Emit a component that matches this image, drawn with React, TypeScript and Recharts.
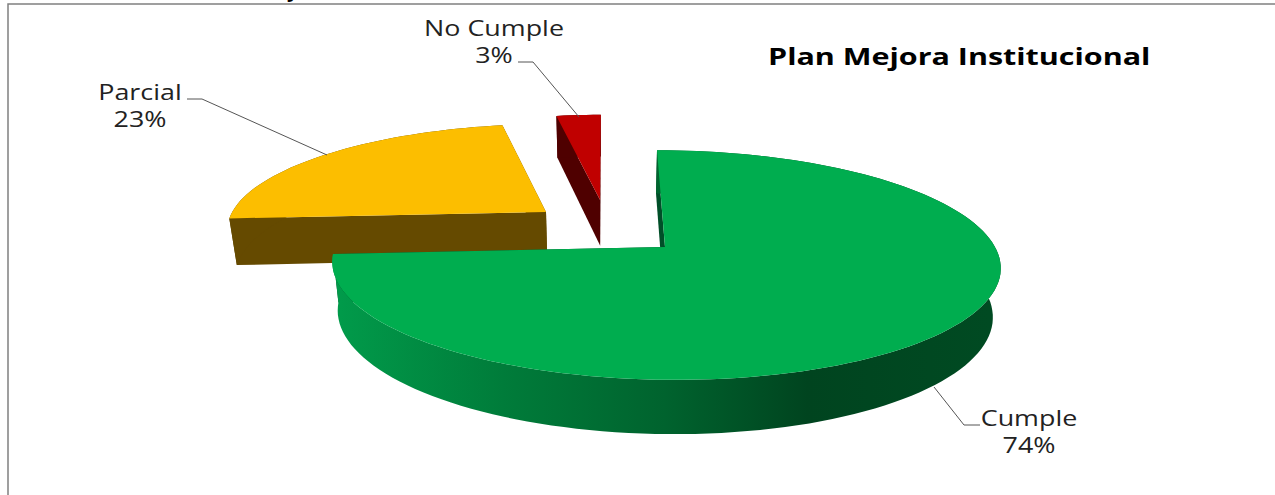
import { Pie, PieChart } from 'recharts';

// drawn back to front, going counter-clockwise from 12 o'clock
const categories = ['No Cumple', 'Parcial', 'Cumple'];
const percentages = [3, 23, 74];

const chartData = categories.map((name, i) => ({ name, value: percentages[i] }));

const FONT = '"Open Sans", "Noto Sans", sans-serif';
const LABEL_STRETCH = 1.28;
const TITLE_STRETCH = 1.27;

// fake 3D: the pie sits on a tilted plane seen from a camera left of its centre
const TILT_Y = 112;
const PERSPECTIVE = 0.157;
const CAMERA_OFFSET = 59;
const DEPTH = 48;
const FLOOR_SCALE = 0.98;

const sliceStyles: Record<string, any> = {
  'No Cumple': { top: '#C00000', wall: '#4F0000', side: '#4F0000', ex: -0.198, ey: -0.45, narrow: 0.88 },
  Parcial: { top: '#FCBE00', wall: '#654A00', side: '#654A00', ex: -0.37, ey: -0.3286, narrow: 1 },
  Cumple: { top: '#00AD4F', wall: 'url(#cumpleSide)', side: '#004F28', ex: 0, ey: 0, narrow: 1 },
};

const labelStyles: Record<string, any> = {
  'No Cumple': { x: 494, y: 36, line: '518,62 533,62 579,117' },
  Parcial: { x: 140, y: 100, line: '187,99 202,99 327,155' },
  Cumple: { x: 1029, y: 426, line: '934,387 964,425 980,425' },
};

const project = (p: any, style: any, angle: number, radius: number, floor: boolean) => {
  const rad = (angle * Math.PI) / 180;
  const u = Math.cos(rad) * radius * style.narrow + style.ex;
  const v = -Math.sin(rad) * radius + style.ey;
  const s = 1 / (1 - PERSPECTIVE * v);
  const scale = floor ? FLOOR_SCALE : 1;
  const x = p.cx - CAMERA_OFFSET + (CAMERA_OFFSET + p.outerRadius * u) * s * scale;
  const y = p.cy + TILT_Y * v * s * scale + (floor ? DEPTH * s : 0);
  return `${x.toFixed(1)},${y.toFixed(1)}`;
};

const arcPoints = (p: any, style: any, floor: boolean) => {
  const points = [];
  const steps = Math.max(2, Math.ceil(Math.abs(p.endAngle - p.startAngle) / 2));
  for (let i = 0; i <= steps; i++) {
    const angle = p.startAngle + ((p.endAngle - p.startAngle) * i) / steps;
    points.push(project(p, style, angle, 1, floor));
  }
  return points;
};

const Slice3D = (props: any) => {
  const style = sliceStyles[props.name];
  const topArc = arcPoints(props, style, false);
  const floorArc = arcPoints(props, style, true);
  const centreTop = project(props, style, 0, 0, false);
  const centreFloor = project(props, style, 0, 0, true);
  const last = topArc.length - 1;

  return (
    <g>
      <polygon points={[centreTop, topArc[0], floorArc[0], centreFloor].join(' ')} fill={style.side} />
      <polygon points={[centreTop, topArc[last], floorArc[last], centreFloor].join(' ')} fill={style.side} />
      <polygon points={[...topArc, ...[...floorArc].reverse()].join(' ')} fill={style.wall} />
      <polygon points={[centreTop, ...topArc].join(' ')} fill={style.top} />
    </g>
  );
};

const SliceLabel = (props: any) => {
  const style = labelStyles[props.name];
  return (
    <g>
      <polyline points={style.line} fill="none" stroke="#555" strokeWidth={1} />
      <g transform={`translate(${style.x} ${style.y}) scale(${LABEL_STRETCH} 1)`}>
        <text x={0} y={0} textAnchor="middle" fontFamily={FONT} fontSize={21} fill="#222">
          {props.name}
        </text>
        <text x={0} y={27} textAnchor="middle" fontFamily={FONT} fontSize={21} fill="#222">
          {props.value}%
        </text>
      </g>
    </g>
  );
};

export default function App() {
  return (
    <div style={{ position: 'fixed', left: 0, top: 0, width: 1275, height: 495, background: '#fff' }}>
      <PieChart width={1275} height={495} margin={{ top: 0, right: 0, bottom: 0, left: 0 }}>
        <defs>
          <linearGradient id="cumpleSide" gradientUnits="userSpaceOnUse" x1={340} y1={0} x2={990} y2={0}>
            <stop offset="0" stopColor="#019A4A" />
            <stop offset="0.25" stopColor="#007C3A" />
            <stop offset="0.5" stopColor="#00632E" />
            <stop offset="0.72" stopColor="#00441F" />
            <stop offset="1" stopColor="#004A22" />
          </linearGradient>
        </defs>
        <polyline points="8,495 8,4 1275,4" fill="none" stroke="#808080" strokeWidth={1.5} />
        <text x={287} y={-3} fontFamily={FONT} fontSize={20} fontWeight={700} fill="#000">
          y
        </text>
        <Pie
          data={chartData}
          dataKey="value"
          nameKey="name"
          cx={665}
          cy={247}
          outerRadius={330}
          startAngle={90}
          endAngle={450}
          stroke="none"
          isAnimationActive={false}
          shape={Slice3D}
          label={SliceLabel}
          labelLine={false}
        />
        <g transform={`translate(768 65) scale(${TITLE_STRETCH} 1)`}>
          <text x={0} y={0} fontFamily={FONT} fontSize={24} fontWeight={700} fill="#000">
            Plan Mejora Institucional
          </text>
        </g>
      </PieChart>
    </div>
  );
}
